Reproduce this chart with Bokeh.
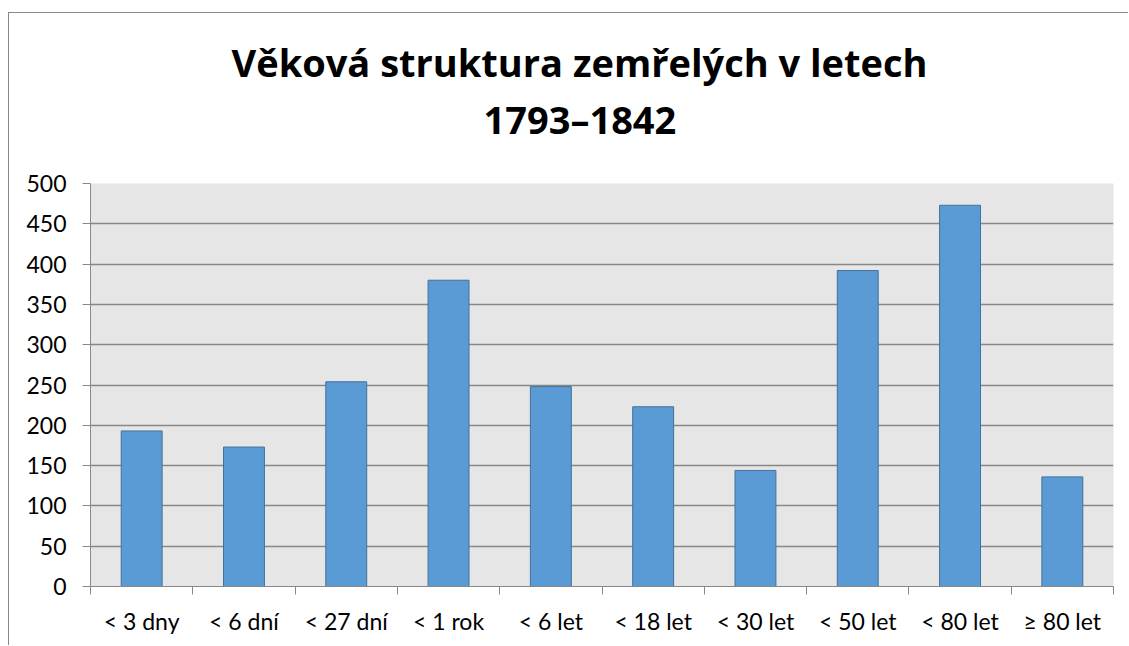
from bokeh.plotting import figure
from bokeh.models import ColumnDataSource, FixedTicker, Range1d, Title
from bokeh.embed import file_html
from bokeh.resources import INLINE

categories = ["< 3 dny", "< 6 dní", "< 27 dní", "< 1 rok", "< 6 let",
              "< 18 let", "< 30 let", "< 50 let", "< 80 let", "≥ 80 let"]
deaths = [193, 173, 254, 380, 248, 223, 144, 392, 473, 136]
y_ticks = [0, 50, 100, 150, 200, 250, 300, 350, 400, 450, 500]
title_line1 = "Věková struktura zemřelých v letech"
title_line2 = "1793–1842"

FONT = "Lato"
TFONT = "Open Sans"

positions = [i + 0.5 for i in range(len(categories))]
boundaries = list(range(len(categories) + 1))
source = ColumnDataSource(dict(x=positions, top=deaths, label=categories))

p = figure(width=1120, height=633, output_backend="svg", toolbar_location=None,
           x_range=Range1d(0, len(categories)), y_range=Range1d(0, y_ticks[-1]),
           min_border_left=81, min_border_right=16, min_border_top=170,
           min_border_bottom=60, title=None,
           styles={"margin-top": "12px", "margin-left": "8px",
                   "border-top": "1px solid #898989",
                   "border-left": "1px solid #898989"})

p.background_fill_color = "#e6e6e6"
p.border_fill_color = "white"
p.outline_line_color = None

p.vbar(x="x", top="top", width=0.4, bottom=0, source=source,
       fill_color="#5b9bd5", line_color="#41719c", line_width=1)

# titles (spacer closest to the frame, then line 2, then line 1)
spacer = Title(text=" ", text_font=TFONT, text_font_size="10px", standoff=21)
t2 = Title(text=title_line2, align="left", offset=393, text_font=TFONT,
           text_font_size="38px", text_font_style="bold", text_color="black", standoff=3)
t1 = Title(text=title_line1, align="left", offset=141, text_font=TFONT,
           text_font_size="38px", text_font_style="bold", text_color="black", standoff=3)
p.add_layout(spacer, "above")
p.add_layout(t2, "above")
p.add_layout(t1, "above")

# x axis
xa = p.xaxis[0]
xa.ticker = FixedTicker(ticks=positions, minor_ticks=boundaries)
xa.major_label_overrides = {pos: lab for pos, lab in zip(positions, categories)}
xa.major_tick_line_color = None
xa.major_tick_out = 8
xa.major_tick_in = 0
xa.minor_tick_out = 8
xa.minor_tick_in = 0
xa.minor_tick_line_color = "#888888"
xa.axis_line_color = "#888888"
xa.major_label_standoff = 12
xa.major_label_text_font = FONT
xa.major_label_text_font_size = "23px"
xa.major_label_text_color = "black"

# y axis
ya = p.yaxis[0]
ya.ticker = FixedTicker(ticks=y_ticks, minor_ticks=[])
ya.major_tick_out = 8
ya.major_tick_in = 0
ya.major_tick_line_color = "#888888"
ya.axis_line_color = "#888888"
ya.minor_tick_line_color = None
ya.major_label_standoff = 16
ya.major_label_text_font = FONT
ya.major_label_text_font_size = "23px"
ya.major_label_text_color = "black"

p.xgrid.grid_line_color = None
p.ygrid.ticker = FixedTicker(ticks=y_ticks)
p.ygrid.grid_line_color = "#888888"
p.ygrid.grid_line_width = 1.3

open("out.html", "w").write(file_html(p, INLINE))
